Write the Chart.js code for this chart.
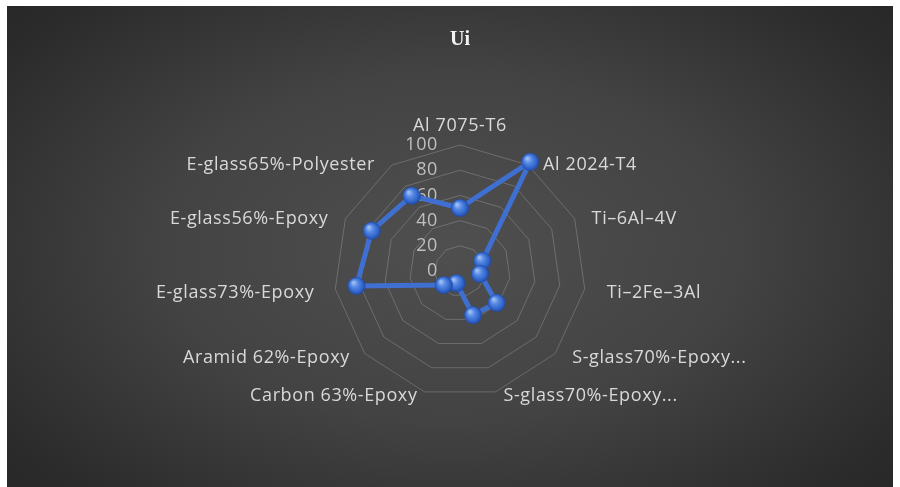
<!DOCTYPE html>
<html>
<head>
<title>Ui</title>
<script src="https://cdn.jsdelivr.net/npm/chart.js"></script>
<style>
    html, body {
        margin: 0;
        padding: 0;
        background: #fff;
    }
    .frame {
        position: absolute;
        left: 7px;
        top: 6px;
        width: 886px;
        height: 481px;
        background: radial-gradient(ellipse 72% 80% at 50% 50%, #4f4f4f 0%, #434343 45%, #2b2b2b 85%, #262626 100%);
    }
    canvas {
        display: block;
    }
</style>
</head>
<body>
<div class="frame"><canvas id="chart" width="886" height="481"></canvas></div>
<script>
    // categories going clockwise from the top
    const categories = [
        'Al 7075-T6',
        'Al 2024-T4',
        'Ti–6Al–4V',
        'Ti–2Fe–3Al',
        'S-glass70%-Epoxy...',
        'S-glass70%-Epoxy...',
        'Carbon 63%-Epoxy',
        'Aramid 62%-Epoxy',
        'E-glass73%-Epoxy',
        'E-glass56%-Epoxy',
        'E-glass65%-Polyester'
    ];
    const uiValues = [50, 103, 19.5, 16, 38.5, 36.5, 10, 17, 83, 77, 71];
    const tickLabels = ['0', '20', '40', '60', '80', '100'];

    // horizontal gap between each axis end and its label (Excel style)
    const labelGap = [0, 15, 17, 22, 17, 8, 7, 15, 21, 17, 17];
    const labelFont = '18px "Open Sans"';

    // shaded ball marker like Excel's 3D bevel points
    function makeBall(r) {
        const c = document.createElement('canvas');
        c.width = c.height = r * 2 + 2;
        const g = c.getContext('2d');
        const m = r + 1;
        const grad = g.createRadialGradient(m - r * 0.35, m - r * 0.4, r * 0.1, m, m, r);
        grad.addColorStop(0, '#9dbdf4');
        grad.addColorStop(0.35, '#568ae4');
        grad.addColorStop(0.8, '#2e61c8');
        grad.addColorStop(1, '#1f479e');
        g.fillStyle = grad;
        g.beginPath();
        g.arc(m, m, r, 0, Math.PI * 2);
        g.fill();
        return c;
    }

    const excelLabels = {
        id: 'excelLabels',
        beforeDatasetsDraw(chart) {
            const s = chart.scales.r;
            const ctx = chart.ctx;
            ctx.save();
            ctx.font = labelFont;
            ctx.letterSpacing = '0.6px';
            ctx.textBaseline = 'middle';

            // value labels up the top axis
            ctx.fillStyle = '#bfbfbf';
            ctx.textAlign = 'right';
            s.ticks.forEach((t, i) => {
                const y = s.yCenter - s.getDistanceFromCenterForValue(t.value);
                ctx.fillText(tickLabels[i], s.xCenter - 22, y);
            });

            // category labels
            ctx.fillStyle = '#d9d9d9';
            categories.forEach((label, i) => {
                const p = s.getPointPosition(i, s.drawingArea);
                const dx = p.x - s.xCenter;
                if (Math.abs(dx) < 1) {
                    ctx.textAlign = 'center';
                    ctx.fillText(label, p.x, p.y - 19);
                    return;
                }
                ctx.textAlign = dx > 0 ? 'left' : 'right';
                const x = p.x + (dx > 0 ? labelGap[i] : -labelGap[i]);
                const y = p.y + (p.y > s.yCenter ? 4 : 0);
                ctx.fillText(label, x, y);
            });
            ctx.restore();
        }
    };

    const ctx = document.getElementById('chart').getContext('2d');
    new Chart(ctx, {
        type: 'radar',
        data: {
            labels: categories,
            datasets: [{
                label: 'Ui',
                data: uiValues,
                fill: false,
                borderColor: '#3f6fd0',
                borderWidth: 5,
                pointStyle: makeBall(9),
                pointRadius: 9,
                clip: false
            }]
        },
        options: {
            responsive: false,
            animation: false,
            layout: {
                padding: { left: 200, right: 180, top: 0, bottom: 89 }
            },
            plugins: {
                legend: { display: false },
                tooltip: { enabled: false },
                title: {
                    display: true,
                    text: 'Ui',
                    color: '#f2f2f2',
                    font: { family: '"Liberation Serif"', size: 20, weight: 'bold' },
                    padding: { top: 22, bottom: 93.6 }
                }
            },
            scales: {
                r: {
                    min: 0,
                    max: 100,
                    ticks: { display: false, stepSize: 20 },
                    grid: { color: 'rgba(255,255,255,0.2)', lineWidth: 1 },
                    angleLines: { display: false },
                    pointLabels: { display: false }
                }
            }
        },
        plugins: [excelLabels]
    });
</script>
</body>
</html>
